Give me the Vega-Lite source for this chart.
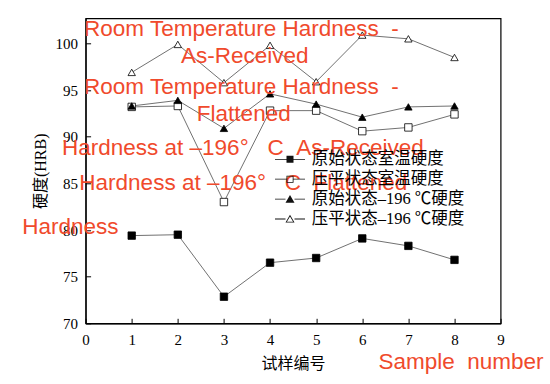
{
  "$schema": "https://vega.github.io/schema/vega-lite/v6.json",
  "autosize": "none",
  "width": 415,
  "height": 305,
  "padding": {"left": 85.6, "top": 18.3, "right": 49.4, "bottom": 60.7},
  "background": "white",
  "config": {
    "view": {"stroke": "black", "strokeWidth": 1.2},
    "axis": {
      "grid": false,
      "domainColor": "black",
      "domainWidth": 1.2,
      "tickColor": "black",
      "tickWidth": 1,
      "tickSize": -5,
      "labelFont": "Liberation Serif",
      "labelFontSize": 15,
      "labelColor": "black",
      "titleFont": "Liberation Serif, Noto Sans CJK SC",
      "titleFontSize": 16,
      "titleFontWeight": "normal",
      "titleColor": "black"
    }
  },
  "datasets": {
    "hardness": [
      {"series": "原始状态室温硬度", "sample": 1, "hardness": 79.4},
      {"series": "原始状态室温硬度", "sample": 2, "hardness": 79.5},
      {"series": "原始状态室温硬度", "sample": 3, "hardness": 72.85},
      {"series": "原始状态室温硬度", "sample": 4, "hardness": 76.5},
      {"series": "原始状态室温硬度", "sample": 5, "hardness": 77.0},
      {"series": "原始状态室温硬度", "sample": 6, "hardness": 79.1},
      {"series": "原始状态室温硬度", "sample": 7, "hardness": 78.3},
      {"series": "原始状态室温硬度", "sample": 8, "hardness": 76.8},
      {"series": "压平状态室温硬度", "sample": 1, "hardness": 93.2},
      {"series": "压平状态室温硬度", "sample": 2, "hardness": 93.3},
      {"series": "压平状态室温硬度", "sample": 3, "hardness": 83.0},
      {"series": "压平状态室温硬度", "sample": 4, "hardness": 92.8},
      {"series": "压平状态室温硬度", "sample": 5, "hardness": 92.8},
      {"series": "压平状态室温硬度", "sample": 6, "hardness": 90.6},
      {"series": "压平状态室温硬度", "sample": 7, "hardness": 91.0},
      {"series": "压平状态室温硬度", "sample": 8, "hardness": 92.4},
      {"series": "原始状态–196 ℃硬度", "sample": 1, "hardness": 93.3},
      {"series": "原始状态–196 ℃硬度", "sample": 2, "hardness": 93.9},
      {"series": "原始状态–196 ℃硬度", "sample": 3, "hardness": 90.9},
      {"series": "原始状态–196 ℃硬度", "sample": 4, "hardness": 94.6},
      {"series": "原始状态–196 ℃硬度", "sample": 5, "hardness": 93.5},
      {"series": "原始状态–196 ℃硬度", "sample": 6, "hardness": 92.1},
      {"series": "原始状态–196 ℃硬度", "sample": 7, "hardness": 93.2},
      {"series": "原始状态–196 ℃硬度", "sample": 8, "hardness": 93.3},
      {"series": "压平状态–196 ℃硬度", "sample": 1, "hardness": 96.9},
      {"series": "压平状态–196 ℃硬度", "sample": 2, "hardness": 99.9},
      {"series": "压平状态–196 ℃硬度", "sample": 3, "hardness": 95.8},
      {"series": "压平状态–196 ℃硬度", "sample": 4, "hardness": 99.8},
      {"series": "压平状态–196 ℃硬度", "sample": 5, "hardness": 95.9},
      {"series": "压平状态–196 ℃硬度", "sample": 6, "hardness": 100.9},
      {"series": "压平状态–196 ℃硬度", "sample": 7, "hardness": 100.5},
      {"series": "压平状态–196 ℃硬度", "sample": 8, "hardness": 98.5}
    ],
    "notes": [
      {"text": "Room Temperature Hardness\u00a0\u00a0-", "sample": 3.38, "hardness": 100.79},
      {"text": "As-Received", "sample": 3.45, "hardness": 97.87},
      {"text": "Room Temperature Hardness\u00a0\u00a0-", "sample": 3.38, "hardness": 94.58},
      {"text": "Flattened", "sample": 3.43, "hardness": 91.68},
      {"text": "Hardness at –196°\u00a0\u00a0\u00a0C\u00a0\u00a0As-Received", "sample": 3.41, "hardness": 88.04},
      {"text": "Hardness at –196°\u00a0\u00a0\u00a0C\u00a0\u00a0Flattened", "sample": 3.42, "hardness": 84.29},
      {"text": "Hardness", "sample": -0.33, "hardness": 79.57},
      {"text": "Sample\u00a0\u00a0number", "sample": 8.14, "hardness": 65.07}
    ]
  },
  "layer": [
    {
      "data": {"name": "hardness"},
      "mark": {"type": "line", "color": "#333", "strokeWidth": 0.7},
      "encoding": {
        "x": {"field": "sample", "type": "quantitative", "scale": {"domain": [0, 9], "nice": false, "zero": false},
              "axis": {"title": "试样编号", "values": [0,1,2,3,4,5,6,7,8,9], "labelPadding": 14, "titlePadding": 8, "labelFlush": false}},
        "y": {"field": "hardness", "type": "quantitative", "scale": {"domain": [70, 102.7], "nice": false, "zero": false},
              "axis": {"title": "硬度(HRB)", "values": [70,75,80,85,90,95,100], "labelPadding": 13, "titlePadding": 7, "labelFlush": false}},
        "detail": {"field": "series"}
      }
    },
    {
      "data": {"name": "hardness"},
      "mark": {"type": "point", "filled": false, "stroke": "black", "strokeWidth": 0.8, "opacity": 1, "size": 55},
      "encoding": {
        "x": {"field": "sample", "type": "quantitative"},
        "y": {"field": "hardness", "type": "quantitative"},
        "shape": {"field": "series", "type": "nominal",
                  "scale": {"domain": ["原始状态室温硬度", "压平状态室温硬度", "原始状态–196 ℃硬度", "压平状态–196 ℃硬度"],
                            "range": ["square", "square", "triangle-up", "triangle-up"]},
                  "legend": null},
        "fill": {"field": "series", "type": "nominal",
                 "scale": {"domain": ["原始状态室温硬度", "压平状态室温硬度", "原始状态–196 ℃硬度", "压平状态–196 ℃硬度"],
                           "range": ["black", "white", "black", "white"]},
                 "legend": null}
      }
    },
    {
      "data": {"name": "hardness"},
      "transform": [{"filter": "false"}],
      "mark": {"type": "point", "filled": true, "opacity": 1},
      "encoding": {
        "x": {"field": "sample", "type": "quantitative"},
        "y": {"field": "hardness", "type": "quantitative"},
        "shape": {"field": "series", "type": "nominal",
                  "scale": {"domain": ["原始状态室温硬度", "压平状态室温硬度", "原始状态–196 ℃硬度", "压平状态–196 ℃硬度"],
                            "range": [
                              "M-1.5,-0.04H-0.35V0.04H-1.5ZM0.35,-0.04H1.5V0.04H0.35ZM-0.35,-0.35H0.35V0.35H-0.35Z",
                              "M-1.5,-0.04H-0.35V0.04H-1.5ZM0.35,-0.04H1.5V0.04H0.35ZM-0.35,-0.35H0.35V0.35H-0.35ZM-0.27,-0.27V0.27H0.27V-0.27Z",
                              "M-1.5,-0.04H-0.45V0.04H-1.5ZM0.45,-0.04H1.5V0.04H0.45ZM0,-0.42L0.45,0.36H-0.45Z",
                              "M-1.5,-0.04H-0.45V0.04H-1.5ZM0.45,-0.04H1.5V0.04H0.45ZM0,-0.42L0.45,0.36H-0.45ZM0,-0.26L-0.31,0.28H0.31Z"
                            ]},
                  "legend": {
                    "title": null, "orient": "none", "legendX": 194.4, "legendY": 131,
                    "symbolSize": 400, "rowPadding": 0.9, "labelOffset": 11.7,
                    "labelFont": "Liberation Serif, Noto Sans CJK SC", "labelFontSize": 16.5, "labelColor": "black",
                    "symbolStrokeWidth": 0
                  }},
        "fill": {"field": "series", "type": "nominal",
                 "scale": {"domain": ["原始状态室温硬度", "压平状态室温硬度", "原始状态–196 ℃硬度", "压平状态–196 ℃硬度"],
                           "range": ["#111", "#111", "#111", "#111"]}}
      }
    },
    {
      "data": {"name": "notes"},
      "mark": {"type": "text", "align": "center", "baseline": "alphabetic", "font": "Liberation Sans", "fontSize": 22.5, "color": "#f04a2c"},
      "encoding": {
        "x": {"field": "sample", "type": "quantitative"},
        "y": {"field": "hardness", "type": "quantitative"},
        "text": {"field": "text"}
      }
    }
  ],
  "resolve": {
    "scale": {"shape": "independent", "fill": "independent"},
    "legend": {"shape": "independent", "fill": "independent"}
  }
}
